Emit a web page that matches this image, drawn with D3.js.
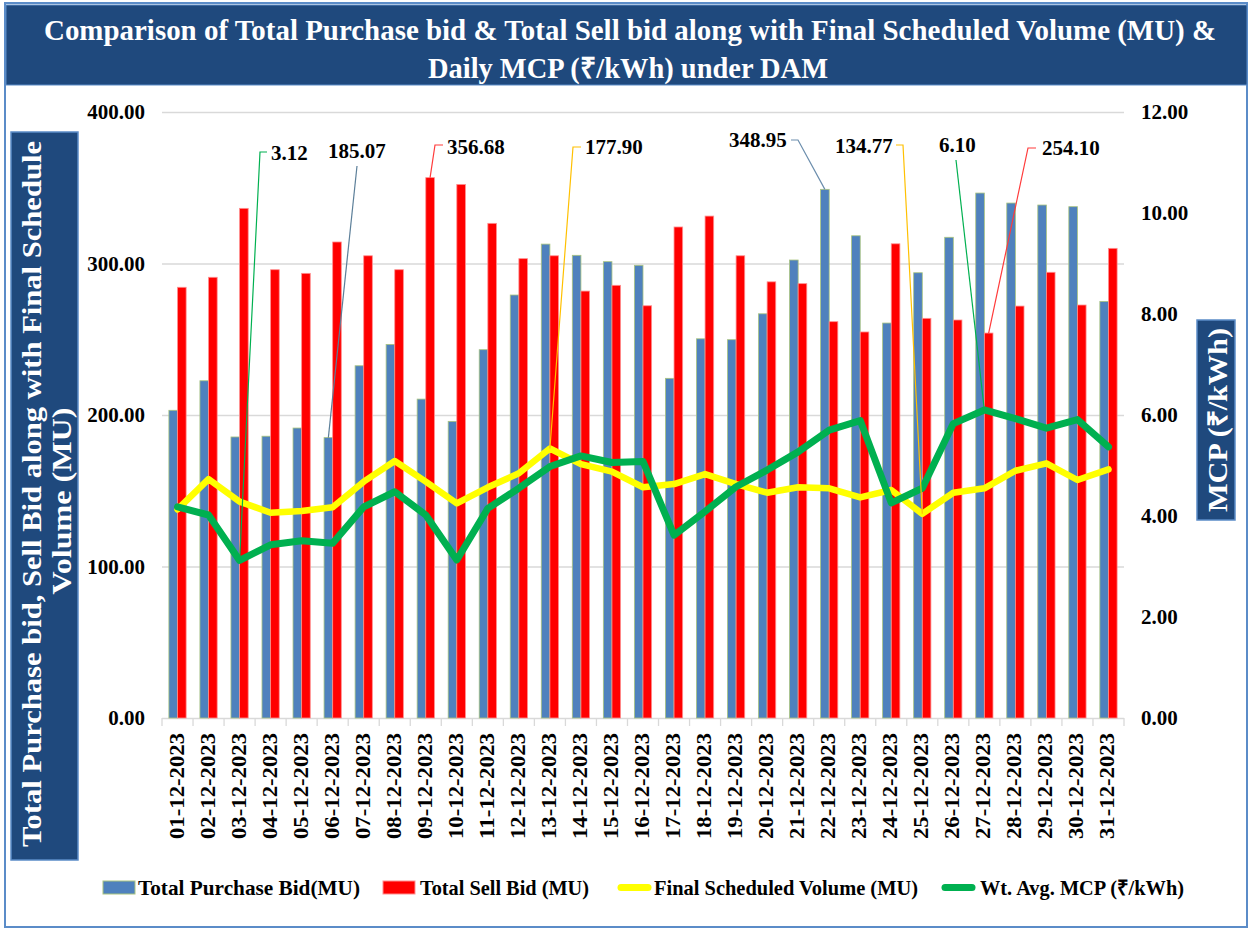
<!DOCTYPE html>
<html>
<head>
<meta charset="utf-8">
<script src="https://cdn.jsdelivr.net/npm/d3@7"></script>
<style>
body{margin:0;background:#fff;}
svg text{font-family:"Liberation Serif","Times New Roman",serif;font-weight:bold;}
</style>
</head>
<body>
<svg id="chart"></svg>
<script>
// data
var dates = ["01-12-2023","02-12-2023","03-12-2023","04-12-2023","05-12-2023","06-12-2023","07-12-2023","08-12-2023",
             "09-12-2023","10-12-2023","11-12-2023","12-12-2023","13-12-2023","14-12-2023","15-12-2023","16-12-2023",
             "17-12-2023","18-12-2023","19-12-2023","20-12-2023","21-12-2023","22-12-2023","23-12-2023","24-12-2023",
             "25-12-2023","26-12-2023","27-12-2023","28-12-2023","29-12-2023","30-12-2023","31-12-2023"]
var purchaseBid = [203.1,222.6,185.5,186.0,191.4,185.07,232.5,246.6,210.5,195.8,243.1,279.2,312.8,305.4,301.2,298.8,
                   224.2,250.3,249.7,266.8,302.3,348.95,318.3,260.7,293.9,317.3,346.5,339.9,338.6,337.5,275.0]
var sellBid = [284.3,290.9,336.4,295.9,293.5,314.2,305.1,295.9,356.68,352.2,326.5,303.2,305.1,281.8,285.6,272.1,
               324.1,331.3,305.1,287.9,286.7,261.6,254.8,313.0,263.8,262.7,254.10,271.9,294.2,272.6,310.0]
var scheduledVolume = [137.7,157.7,142.8,135.5,136.6,139.1,156.0,169.6,156.0,141.7,152.3,161.5,177.90,167.6,162.6,152.3,
                       154.4,161.0,154.4,148.7,152.3,151.6,145.6,150.5,134.77,148.7,151.6,163.2,168.1,157.1,164.1]
var mcp = [4.18,4.02,3.12,3.43,3.51,3.46,4.18,4.48,4.02,3.13,4.15,4.55,4.98,5.19,5.06,5.08,
           3.62,4.09,4.58,4.91,5.27,5.70,5.89,4.26,4.55,5.83,6.10,5.93,5.74,5.91,5.37]
var leftTicks = [0,100,200,300,400]
var rightTicks = [0,2,4,6,8,10,12]
var seriesNames = ["Total Purchase  Bid(MU)","Total Sell Bid (MU)","Final Scheduled Volume (MU)","Wt. Avg.  MCP (\u20b9/kWh)"]

var screen = {width:1254, height:931}
var plot = {left:162, right:1124, top:112, bottom:718}

var svg = d3.select("#chart").attr("width", screen.width).attr("height", screen.height)

// outer frame + title banner
svg.append("rect").attr("x",5).attr("y",3).attr("width",1242).attr("height",924)
    .attr("fill","#fff").attr("stroke","#5B8CC8").attr("stroke-width",2)
svg.append("rect").attr("x",6).attr("y",5).attr("width",1241).attr("height",80)
    .attr("fill","#1F497D").attr("stroke","#5B8CC8").attr("stroke-width",1)
svg.append("text").attr("x",44).attr("y",40).attr("font-size",29).attr("fill","#fff")
    .attr("textLength",1172).attr("lengthAdjust","spacingAndGlyphs")
    .text("Comparison of Total Purchase bid & Total Sell bid along with Final Scheduled Volume (MU) &")
svg.append("text").attr("x",428).attr("y",78).attr("font-size",29).attr("fill","#fff")
    .attr("textLength",400).attr("lengthAdjust","spacingAndGlyphs")
    .text("Daily MCP (\u20b9/kWh) under DAM")

var x = d3.scaleBand().domain(dates).range([plot.left, plot.right]).padding(0)
var x1 = d3.scaleBand().domain(["buy","sell"]).range([0, x.bandwidth()]).paddingInner(0).paddingOuter(0.8)
var y = d3.scaleLinear().domain([0,400]).range([plot.bottom, plot.top])
var y2 = d3.scaleLinear().domain([0,12]).range([plot.bottom, plot.top])
var mid = function(d){ return x(d) + x.bandwidth()/2 }

// gridlines
svg.append("g").attr("transform","translate("+plot.left+",0)")
    .call(d3.axisLeft(y).tickValues(leftTicks).tickSize(-(plot.right-plot.left)).tickFormat(""))
    .call(function(g){ g.select(".domain").remove(); g.selectAll("line").attr("stroke","#D9D9D9").attr("stroke-width",1.3) })

// category boundary ticks under the axis
var bounds = dates.map(function(d){ return x(d) }).concat([x.range()[1]])
svg.append("g").selectAll("line").data(bounds).enter().append("line")
    .attr("x1",function(d){return d}).attr("x2",function(d){return d})
    .attr("y1",plot.bottom).attr("y2",plot.bottom+8)
    .attr("stroke","#D9D9D9").attr("stroke-width",1.3)

// left axis labels
svg.append("g").attr("transform","translate("+plot.left+",0)")
    .call(d3.axisLeft(y).tickValues(leftTicks).tickSize(0).tickPadding(17).tickFormat(d3.format(".2f")))
    .call(function(g){ g.select(".domain").remove() })
    .selectAll("text").attr("font-size",21).attr("fill","#000")
    .attr("font-family","Liberation Serif").attr("font-weight","bold")

// right axis labels
svg.append("g").attr("transform","translate("+plot.right+",0)")
    .call(d3.axisRight(y2).tickValues(rightTicks).tickSize(0).tickPadding(17).tickFormat(d3.format(".2f")))
    .call(function(g){ g.select(".domain").remove() })
    .selectAll("text").attr("font-size",21).attr("fill","#000")
    .attr("font-family","Liberation Serif").attr("font-weight","bold")

// date labels
svg.append("g").attr("transform","translate(0,"+plot.bottom+")")
    .call(d3.axisBottom(x).tickSize(0).tickPadding(0))
    .call(function(g){ g.select(".domain").remove() })
    .selectAll("text")
    .attr("font-size",20).attr("fill","#000").attr("font-family","Liberation Serif").attr("font-weight","bold")
    .attr("text-anchor","end").attr("dy",null).attr("y",0)
    .attr("textLength",106).attr("lengthAdjust","spacingAndGlyphs")
    .attr("transform","translate(6,15) rotate(-90)")

// bars
var groups = svg.append("g").selectAll("g").data(dates).enter().append("g")
    .attr("transform",function(d){ return "translate("+x(d)+",0)" })
groups.append("rect")
    .attr("x",x1("buy")).attr("width",x1.bandwidth())
    .attr("y",function(d,i){ return y(purchaseBid[i]) })
    .attr("height",function(d,i){ return plot.bottom - y(purchaseBid[i]) })
    .attr("fill","#4F81BD").attr("stroke","#A9C47F").attr("stroke-width",0.8)
groups.append("rect")
    .attr("x",x1("sell")).attr("width",x1.bandwidth())
    .attr("y",function(d,i){ return y(sellBid[i]) })
    .attr("height",function(d,i){ return plot.bottom - y(sellBid[i]) })
    .attr("fill","#FF0000").attr("stroke","#FF8F8F").attr("stroke-width",0.8)

// lines
var fsvLine = d3.line().x(function(d,i){ return mid(dates[i]) }).y(function(d){ return y(d) })
var mcpLine = d3.line().x(function(d,i){ return mid(dates[i]) }).y(function(d){ return y2(d) })
svg.append("path").datum(scheduledVolume).attr("d",fsvLine)
    .attr("fill","none").attr("stroke","#FFFF00").attr("stroke-width",6.5)
    .attr("stroke-linejoin","round").attr("stroke-linecap","round")
svg.append("path").datum(mcp).attr("d",mcpLine)
    .attr("fill","none").attr("stroke","#00B050").attr("stroke-width",7)
    .attr("stroke-linejoin","round").attr("stroke-linecap","round")

// callouts: which point, where the label sits, where the leader starts
var barX = function(key){ return function(i){ return x(dates[i]) + x1(key) + x1.bandwidth()/2 } }
var callouts = [
    {arr:mcp, day:2, px:function(i){return mid(dates[i])}, py:y2, lx:271, ly:160, sx:260, sy:152, stub:7, col:"#00B050"},
    {arr:purchaseBid, day:5, px:barX("buy"), py:y, lx:328, ly:158, sx:357, sy:166, stub:0, col:"#5C7F99"},
    {arr:sellBid, day:8, px:barX("sell"), py:y, lx:447, ly:154, sx:435, sy:145, stub:8, col:"#FF3B3B"},
    {arr:scheduledVolume, day:12, px:function(i){return mid(dates[i])}, py:y, lx:585, ly:154, sx:573, sy:147, stub:8, col:"#FFC000"},
    {arr:purchaseBid, day:21, px:barX("buy"), py:y, lx:729, ly:147, sx:798, sy:140, stub:-7, col:"#6C8EAD"},
    {arr:scheduledVolume, day:24, px:function(i){return mid(dates[i])}, py:y, lx:835, ly:153, sx:903, sy:145, stub:-7, col:"#FFC000"},
    {arr:mcp, day:26, px:function(i){return mid(dates[i])}, py:y2, lx:939, ly:152, sx:956, sy:160, stub:0, col:"#00B050"},
    {arr:sellBid, day:26, px:barX("sell"), py:y, lx:1042, ly:155, sx:1028, sy:148, stub:8, col:"#FF3B3B"}
]
var co = svg.append("g").selectAll("g").data(callouts).enter().append("g")
co.append("path")
    .attr("d",function(c){
        var p = "M"+c.px(c.day)+","+c.py(c.arr[c.day])+"L"+c.sx+","+c.sy
        if (c.stub) p += "L"+(c.sx+c.stub)+","+c.sy
        return p })
    .attr("fill","none").attr("stroke",function(c){return c.col}).attr("stroke-width",1.2)
co.append("text").attr("x",function(c){return c.lx}).attr("y",function(c){return c.ly})
    .attr("font-size",21).attr("fill","#000")
    .text(function(c){ return d3.format(".2f")(c.arr[c.day]) })

// axis title boxes
svg.append("rect").attr("x",11).attr("y",132).attr("width",67).attr("height",728)
    .attr("fill","#1F497D").attr("stroke","#5B8CC8").attr("stroke-width",1.5)
svg.append("text").attr("transform","translate(41,494) rotate(-90)").attr("text-anchor","middle")
    .attr("font-size",27).attr("fill","#fff").attr("textLength",706).attr("lengthAdjust","spacingAndGlyphs")
    .text("Total Purchase bid, Sell Bid along with Final Schedule")
svg.append("text").attr("transform","translate(71,501) rotate(-90)").attr("text-anchor","middle")
    .attr("font-size",27).attr("fill","#fff").attr("textLength",187).attr("lengthAdjust","spacingAndGlyphs")
    .text("Volume (MU)")
svg.append("rect").attr("x",1197).attr("y",320).attr("width",38).attr("height",200)
    .attr("fill","#1F497D").attr("stroke","#5B8CC8").attr("stroke-width",1.5)
svg.append("text").attr("transform","translate(1227,420) rotate(-90)").attr("text-anchor","middle")
    .attr("font-size",27).attr("fill","#fff").attr("textLength",184).attr("lengthAdjust","spacingAndGlyphs")
    .text("MCP (\u20b9/kWh)")

// legend
var legendItems = [
    {name:seriesNames[0], type:"rect", col:"#4F81BD", mx:103, tx:138, tl:222},
    {name:seriesNames[1], type:"rect", col:"#FF0000", mx:383, tx:420, tl:169},
    {name:seriesNames[2], type:"line", col:"#FFFF00", mx:618, tx:654, tl:264},
    {name:seriesNames[3], type:"line", col:"#00B050", mx:942, tx:980, tl:204}
]
var lg = svg.append("g").attr("id","legend").selectAll("g").data(legendItems).enter().append("g")
lg.filter(function(d){return d.type=="rect"}).append("rect")
    .attr("x",function(d){return d.mx}).attr("y",881).attr("width",32).attr("height",13)
    .attr("fill",function(d){return d.col})
    .attr("stroke",function(d){return d.col=="#FF0000" ? "#FF8F8F" : "#A9C47F"}).attr("stroke-width",1)
lg.filter(function(d){return d.type=="line"}).append("line")
    .attr("x1",function(d){return d.mx+3}).attr("x2",function(d){return d.mx+30})
    .attr("y1",887.5).attr("y2",887.5)
    .attr("stroke",function(d){return d.col}).attr("stroke-width",7).attr("stroke-linecap","round")
lg.append("text").attr("x",function(d){return d.tx}).attr("y",895)
    .attr("font-size",21).attr("fill","#000")
    .attr("textLength",function(d){return d.tl}).attr("lengthAdjust","spacingAndGlyphs")
    .text(function(d){return d.name})
</script>
</body>
</html>
